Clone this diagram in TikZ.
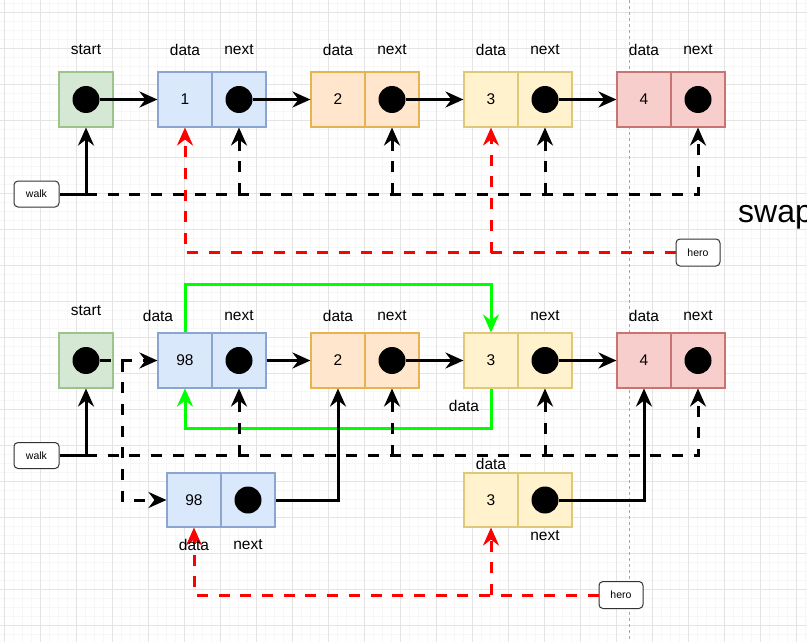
\documentclass[tikz,border=0pt]{standalone}
\usepackage{fontspec}
\setmainfont{Liberation Sans}
\usetikzlibrary{arrows.meta}
\definecolor{gmin}{HTML}{F7F7F7}
\definecolor{gmaj}{HTML}{E4E4E4}
\definecolor{fg}{HTML}{D5E8D4}\definecolor{dg}{HTML}{9CC48A}
\definecolor{fb}{HTML}{DAE8FC}\definecolor{db}{HTML}{8AA6D0}
\definecolor{fo}{HTML}{FFE6CC}\definecolor{do}{HTML}{E6B350}
\definecolor{fy}{HTML}{FFF2CC}\definecolor{dy}{HTML}{E0C878}
\definecolor{fr}{HTML}{F8CECC}\definecolor{dr}{HTML}{C87470}
\definecolor{lime}{HTML}{00FF00}
\definecolor{hred}{HTML}{FF0000}
\begin{document}
\begin{tikzpicture}[x=1pt,y=-1pt,
  lbl/.style={font=\fontsize{15.5}{18}\selectfont, inner sep=0},
  cell/.style={draw, line width=1.1pt, minimum width=54pt, minimum height=55pt, inner sep=0, font=\fontsize{15.5}{18}\selectfont},
  cg/.style={fill=fg, draw=dg},
  cb/.style={fill=fb, draw=db},
  co/.style={fill=fo, draw=do},
  cy/.style={fill=fy, draw=dy},
  cr/.style={fill=fr, draw=dr},
  dot/.style={circle, fill=black, minimum size=27pt, inner sep=0},
  tag/.style={draw=black!80, line width=1pt, rounded corners=4pt, fill=white, minimum width=45pt, minimum height=26pt, inner sep=0, font=\fontsize{10.5}{12}\selectfont},
  tip/.style={-{Stealth[length=18pt,width=16pt,inset=6pt]}},
  arr/.style={line width=3pt, tip},
  dsh/.style={line width=3pt, dash pattern=on 11pt off 10.7pt},
  darr/.style={dsh, tip},
  rarr/.style={darr, color=hred},
  garr/.style={arr, color=lime}
]
\useasboundingbox (0,0) rectangle (807,642);
\clip (0,0) rectangle (807,642);
\fill[white] (0,0) rectangle (807,642);
% grid
\foreach \x in {4,13,...,807} \draw[gmin, line width=1pt] (\x,0) -- (\x,642);
\foreach \y in {4,13,...,642} \draw[gmin, line width=1pt] (0,\y) -- (807,\y);
\foreach \x in {4,40,...,807} \draw[gmaj, line width=1pt] (\x,0) -- (\x,642);
\foreach \y in {13,49,...,642} \draw[gmaj, line width=1pt] (0,\y) -- (807,\y);
\draw[black!35, line width=0.8pt, dash pattern=on 3pt off 3pt] (629.5,0) -- (629.5,642);

% ---------- top diagram ----------
\node[cell, cg] (s1) at (86,99.5) {};
\node[dot] (cs1) at (s1) {};
\node[cell, cb] (n1d) at (185,99.5) {1};
\node[cell, cb] (n1n) at (239,99.5) {};
\node[dot] (c1) at (n1n) {};
\node[cell, co] (n2d) at (338,99.5) {2};
\node[cell, co] (n2n) at (392,99.5) {};
\node[dot] (c2) at (n2n) {};
\node[cell, cy] (n3d) at (491,99.5) {3};
\node[cell, cy] (n3n) at (545,99.5) {};
\node[dot] (c3) at (n3n) {};
\node[cell, cr] (n4d) at (644,99.5) {4};
\node[cell, cr] (n4n) at (698,99.5) {};
\node[dot] (c4) at (n4n) {};
\node[tag] (walk1) at (36.5,194) {walk};
\node[tag, minimum width=44pt, minimum height=27pt] (hero1) at (698,252.5) {hero};

\draw[arr] (cs1) -- (n1d.west);
\draw[arr] (c1) -- (n2d.west);
\draw[arr] (c2) -- (n3d.west);
\draw[arr] (c3) -- (n4d.west);
\coordinate (w1) at (walk1.east -| s1.south);
\draw[arr] (walk1.east) -| (s1.south);
\draw[darr] (w1) -| (n4n.south);
\draw[darr] (w1 -| n1n.south) -- (n1n.south);
\draw[darr] (w1 -| n2n.south) -- (n2n.south);
\draw[darr] (w1 -| n3n.south) -- (n3n.south);
\draw[rarr] (hero1.west) -| (n1d.south);
\draw[rarr] (hero1.west -| n3d.south) -- (n3d.south);

\node[lbl] (t0) at (86,50) {start};
\node[lbl] (t1) at (185,50) {data};
\node[lbl] (t2) at (239,50) {next};
\node[lbl] (t3) at (338,50) {data};
\node[lbl] (t4) at (392,50) {next};
\node[lbl] (t5) at (491,50) {data};
\node[lbl] (t6) at (545,50) {next};
\node[lbl] (t7) at (644,50) {data};
\node[lbl] (t8) at (698,50) {next};

\node[font=\fontsize{32}{38}\selectfont, anchor=base west, inner sep=0] (swap) at (738,222) {swap};

% ---------- bottom diagram ----------
\node[cell, cg] (s2) at (86,360.5) {};
\node[dot] (cs2) at (s2) {};
\node[cell, cb] (m1d) at (185,360.5) {98};
\node[cell, cb] (m1n) at (239,360.5) {};
\node[dot] (cm1) at (m1n) {};
\node[cell, co] (m2d) at (338,360.5) {2};
\node[cell, co] (m2n) at (392,360.5) {};
\node[dot] (cm2) at (m2n) {};
\node[cell, cy] (m3d) at (491,360.5) {3};
\node[cell, cy] (m3n) at (545,360.5) {};
\node[dot] (cm3) at (m3n) {};
\node[cell, cr] (m4d) at (644,360.5) {4};
\node[cell, cr] (m4n) at (698,360.5) {};
\node[dot] (cm4) at (m4n) {};
\node[cell, cb, minimum height=54pt] (b1d) at (194,500) {98};
\node[cell, cb, minimum height=54pt] (b1n) at (248,500) {};
\node[dot] (cb1) at (b1n) {};
\node[cell, cy, minimum height=54pt] (b3d) at (491,500) {3};
\node[cell, cy, minimum height=54pt] (b3n) at (545,500) {};
\node[dot] (cb3) at (b3n) {};
\node[tag] (walk2) at (36.5,455.5) {walk};
\node[tag, minimum width=44pt, minimum height=27pt] (hero2) at (621,595) {hero};

\coordinate (k) at (122,360.5);
\draw[darr] (cs2.east) -- (k) -- (m1d.west);
\draw[darr] (k) |- (b1d.west);
\draw[arr] (m1n.east) -- (m2d.west);
\draw[arr] (cm2) -- (m3d.west);
\draw[arr] (cm3) -- (m4d.west);
\coordinate (g1) at (185,284);
\coordinate (g2) at (491,428);
\draw[garr] (m1d.north) -- (g1) -| (m3d.north);
\draw[garr] (m3d.south) -- (g2) -| (m1d.south);
\coordinate (w2) at (walk2.east -| s2.south);
\draw[arr] (walk2.east) -| (s2.south);
\draw[darr] (w2) -| (m4n.south);
\draw[darr] (w2 -| m1n.south) -- (m1n.south);
\draw[darr] (w2 -| m2n.south) -- (m2n.south);
\draw[darr] (w2 -| m3n.south) -- (m3n.south);
\draw[arr] (b1n.east) -| (m2d.south);
\draw[arr] (cb3) -| (m4d.south);
\draw[rarr] (hero2.west) -| (b1d.south);
\draw[rarr] (hero2.west -| b3d.south) -- (b3d.south);

\node[lbl] (u0) at (86,311) {start};
\node[lbl] (u1) at (158,316) {data};
\node[lbl] (u2) at (239,316) {next};
\node[lbl] (u3) at (338,316) {data};
\node[lbl] (u4) at (392,316) {next};
\node[lbl] (u6) at (545,316) {next};
\node[lbl] (u5) at (464,406) {data};
\node[lbl] (u7) at (644,316) {data};
\node[lbl] (u8) at (698,316) {next};
\node[lbl] (v1) at (194,545) {data};
\node[lbl] (v2) at (248,545) {next};
\node[lbl] (v3) at (491,464) {data};
\node[lbl] (v4) at (545,536) {next};
\end{tikzpicture}
\end{document}
